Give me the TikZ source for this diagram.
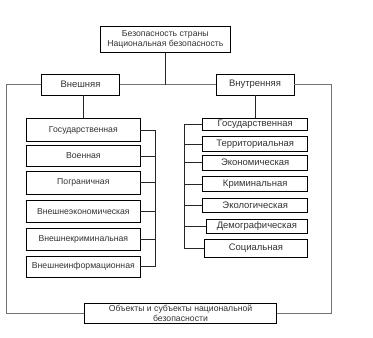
\documentclass[tikz,border=0pt]{standalone}
\usepackage{fontspec}
\setmainfont{Liberation Sans}
\begin{document}
\begin{tikzpicture}[x=1bp,y=-1bp,
  box/.style={draw=black, line width=0.6pt, inner sep=0pt, align=center, fill=white,
    text=black!80, font=\fontsize{8.7}{10}\selectfont},
  rbox/.style={box, font=\fontsize{9.5}{11}\selectfont},
  frameline/.style={draw=black!55, line width=0.7pt},
  busline/.style={draw=black!85, line width=0.7pt}]
\useasboundingbox (0,0) rectangle (373,338);
% top
\node[box, minimum width=130.7bp, minimum height=26bp] (top) at (165.3,39.7)
  {Безопасность страны\\Национальная безопасность};
\node[rbox, minimum width=77.6bp, minimum height=21bp] (ext) at (80.5,84.5) {Внешняя};
\node[rbox, minimum width=78bp, minimum height=21bp] (int) at (255,84.5) {Внутренняя};
% left column
\node[box, minimum width=113.3bp, minimum height=23bp] (l1) at (83.35,130) {Государственная};
\node[box, minimum width=113.3bp, minimum height=21bp] (l2) at (83.35,156) {Военная};
\node[box, minimum width=113.3bp, minimum height=22.5bp] (l3) at (83.35,182.75) {Пограничная};
\node[box, minimum width=113.3bp, minimum height=21.5bp] (l4) at (83.35,211.25) {Внешнеэкономическая};
\node[box, minimum width=113.3bp, minimum height=22bp] (l5) at (83.35,239) {Внешнекриминальная};
\node[box, minimum width=113.3bp, minimum height=20.5bp] (l6) at (83.35,266.75) {Внешнеинформационная};
% right column
\node[rbox, minimum width=105bp, minimum height=12bp] (r1) at (255.2,124.5) {Государственная};
\node[rbox, minimum width=105bp, minimum height=15bp] (r2) at (255.2,144) {Территориальная};
\node[rbox, minimum width=105bp, minimum height=15bp] (r3) at (255.2,162.5) {Экономическая};
\node[rbox, minimum width=105bp, minimum height=15bp] (r4) at (255.2,184) {Криминальная};
\node[rbox, minimum width=105bp, minimum height=14bp] (r5) at (255.2,205.5) {Экологическая};
\node[rbox, minimum width=101.7bp, minimum height=14bp] (r6) at (256.85,226.5) {Демографическая};
\node[rbox, minimum width=103.7bp, minimum height=18bp] (r7) at (255.85,248.5) {Социальная};
% bottom
\node[box, minimum width=192.4bp, minimum height=20bp] (bot) at (180.5,313.3)
  {Объекты и субъекты национальной\\безопасности};
% coordinates for frame and buses
\coordinate (fl) at (6,84.5);
\coordinate (fr) at (331.7,84.5);
\coordinate (lb) at (155,0);
\coordinate (rb) at (184,0);
% connectors
\draw[frameline] (ext.east) -- (int.west);
\draw[busline] (top.south) -- (top.south |- ext.east);
\draw[frameline] (ext.west) -- (fl) -- (fl |- bot.west) -- (bot.west);
\draw[frameline] (int.east) -- (fr) -- (fr |- bot.east) -- (bot.east);
\draw[busline] (l1.north) -- (l1.north |- ext.south);
\draw[busline] (int.south) -- (int.south |- r1.north);
% left bus
\foreach \n in {l1,l2,l3,l4,l5,l6} {\draw[busline] (\n.east) -- (lb |- \n.east);}
\draw[busline] (lb |- l1.east) -- (lb |- l6.east);
% right bus
\foreach \n in {r1,r2,r3,r4,r5,r6,r7} {\draw[busline] (\n.west) -- (rb |- \n.west);}
\draw[busline] (rb |- r1.west) -- (rb |- r7.west);
\end{tikzpicture}
\end{document}
